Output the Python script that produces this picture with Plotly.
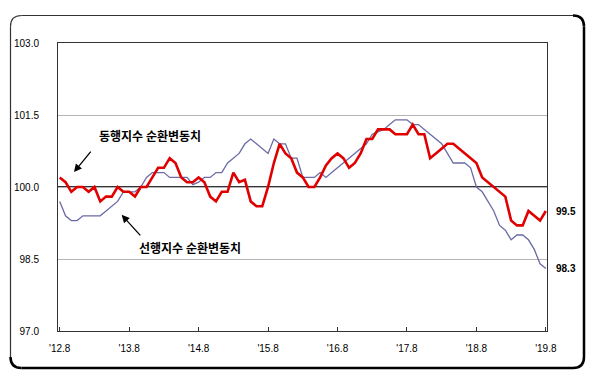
import plotly.graph_objects as go

# Monthly data, Aug 2012 .. Aug 2019 (85 months)
coincident = [
    100.2, 100.1, 99.9, 100.0, 100.0, 99.9, 100.0, 99.7, 99.8, 99.8, 100.0, 99.9,
    99.9, 99.8, 100.0, 100.0, 100.2, 100.4, 100.4, 100.6, 100.5, 100.2, 100.1, 100.1,
    100.2, 100.1, 99.8, 99.7, 99.9, 99.9, 100.3, 100.1, 100.15, 99.7, 99.6, 99.6,
    100.0, 100.5, 100.9, 100.7, 100.6, 100.3, 100.2, 100.0, 100.0, 100.2, 100.45, 100.6,
    100.7, 100.6, 100.4, 100.5, 100.7, 101.0, 101.0, 101.2, 101.2, 101.2, 101.1, 101.1,
    101.1, 101.3, 101.1, 101.1, 100.6, 100.7, 100.8, 100.9, 100.9, 100.8, 100.7, 100.6,
    100.5, 100.2, 100.1, 100.0, 99.9, 99.8, 99.3, 99.2, 99.2, 99.5, 99.4, 99.3,
    99.5,
]
leading = [
    99.7, 99.4, 99.3, 99.3, 99.4, 99.4, 99.4, 99.4, 99.5, 99.6, 99.7, 99.9,
    99.9, 99.9, 100.0, 100.2, 100.3, 100.3, 100.3, 100.2, 100.2, 100.2, 100.2, 100.05,
    100.1, 100.2, 100.2, 100.3, 100.3, 100.5, 100.6, 100.7, 100.9, 101.0, 100.9, 100.8,
    100.7, 101.0, 100.9, 100.9, 100.6, 100.6, 100.2, 100.2, 100.2, 100.3, 100.2, 100.3,
    100.4, 100.5, 100.6, 100.7, 100.8, 100.9, 101.1, 101.15, 101.2, 101.3, 101.4, 101.4,
    101.4, 101.3, 101.3, 101.2, 101.1, 101.0, 100.9, 100.7, 100.5, 100.5, 100.5, 100.4,
    100.0, 99.9, 99.7, 99.5, 99.2, 99.1, 98.9, 99.0, 99.0, 98.9, 98.7, 98.4,
    98.3,
]
tick_positions = [0, 12, 24, 36, 48, 60, 72, 84]
tick_labels = ["'12.8", "'13.8", "'14.8", "'15.8", "'16.8", "'17.8", "'18.8", "'19.8"]
y_ticks = [97.0, 98.5, 100.0, 101.5, 103.0]
label_coincident = "동행지수 순환변동치"
label_leading = "선행지수 순환변동치"

months = list(range(len(coincident)))

W, H = 593, 380
L, R, T, B = 58, 46, 43, 49
pw, ph = W - L - R, H - T - B


def px(x):
    return (x - L) / pw


def py(y):
    return (H - B - y) / ph


fig = go.Figure()
fig.add_trace(go.Scatter(x=months, y=leading, mode="lines",
                         line=dict(color="#6b6ba6", width=1.3), showlegend=False))
fig.add_trace(go.Scatter(x=months, y=coincident, mode="lines",
                         line=dict(color="#e00000", width=2.6), showlegend=False))

# 100.0 reference line
fig.add_shape(type="line", xref="paper", yref="y", x0=0, x1=1, y0=100, y1=100,
              line=dict(color="#333333", width=2), layer="between")

# outer rounded frame (pixel positions converted to paper units)
fx0, fx1, fy0, fy1, r = 10.5, 584, 15.5, 368, 11
thin = dict(color="#333333", width=1.2)
thick = dict(color="#000000", width=2.5)


def seg(a, b, c, d, line):
    fig.add_shape(type="line", xref="paper", yref="paper",
                  x0=px(a), y0=py(b), x1=px(c), y1=py(d), line=line, layer="above")


def corner(sx, sy, cx, cy, ex, ey, line):
    p = (f"M {px(sx):.5f},{py(sy):.5f} Q {px(cx):.5f},{py(cy):.5f} "
         f"{px(ex):.5f},{py(ey):.5f}")
    fig.add_shape(type="path", xref="paper", yref="paper", path=p, line=line, layer="above")


seg(fx0 + r, fy0, fx1 - r, fy0, thin)            # top
seg(fx0, fy0 + r, fx0, fy1 - r, thin)            # left
seg(fx1, fy0 + r, fx1, fy1 - r, thick)           # right
seg(fx0 + r, fy1, fx1 - r, fy1, thick)           # bottom
corner(fx0, fy0 + r, fx0, fy0, fx0 + r, fy0, thin)
corner(fx1 - r, fy0, fx1, fy0, fx1, fy0 + r, thick)
corner(fx1, fy1 - r, fx1, fy1, fx1 - r, fy1, thick)
corner(fx0 + r, fy1, fx0, fy1, fx0, fy1 - r, thick)

ann_font = dict(family="Noto Sans CJK KR", size=12, color="#000000")
fig.add_annotation(x=15.6, y=101.08, text=f"<b>{label_coincident}</b>", showarrow=False, font=ann_font)
fig.add_annotation(x=22.5, y=98.75, text=f"<b>{label_leading}</b>", showarrow=False, font=ann_font)
# arrows
fig.add_annotation(x=2.46, y=100.31, ax=18, ay=-22, text="", showarrow=True,
                   arrowhead=2, arrowsize=1.2, arrowwidth=1.3, arrowcolor="#000000")
fig.add_annotation(x=10.7, y=99.42, ax=20, ay=22, text="", showarrow=True,
                   arrowhead=2, arrowsize=1.2, arrowwidth=1.3, arrowcolor="#000000")

# end labels
end_font = dict(family="Liberation Sans", size=10, color="#000000")
fig.add_annotation(xref="paper", x=px(566), xanchor="center", y=coincident[-1],
                   text=f"<b>{coincident[-1]:.1f}</b>", showarrow=False, font=end_font)
fig.add_annotation(xref="paper", x=px(566), xanchor="center", y=leading[-1],
                   text=f"<b>{leading[-1]:.1f}</b>", showarrow=False, font=end_font)

tick_font = dict(family="Liberation Sans", size=10, color="#000000")
fig.update_xaxes(range=[-0.3, 84.2], tickvals=tick_positions, ticktext=tick_labels,
                 showgrid=False, zeroline=False, showline=True, linecolor="#333333", linewidth=1,
                 mirror=True, ticks="inside", ticklen=4, tickcolor="#333333",
                 tickfont=tick_font, ticklabelstandoff=8)
fig.update_yaxes(range=[97, 103], tickvals=y_ticks, ticktext=[f"{v:.1f}" for v in y_ticks],
                 showgrid=True, gridcolor="#b4b4b4", gridwidth=1, zeroline=False,
                 showline=True, linecolor="#333333", linewidth=1, mirror=True, ticks="",
                 tickfont=tick_font, ticklabelstandoff=16)
fig.update_layout(width=W, height=H, margin=dict(l=L, r=R, t=T, b=B),
                  paper_bgcolor="white", plot_bgcolor="white", showlegend=False)

fig.write_html("out.html", config={"displayModeBar": False},
               post_script="document.body.style.margin='0px';")
